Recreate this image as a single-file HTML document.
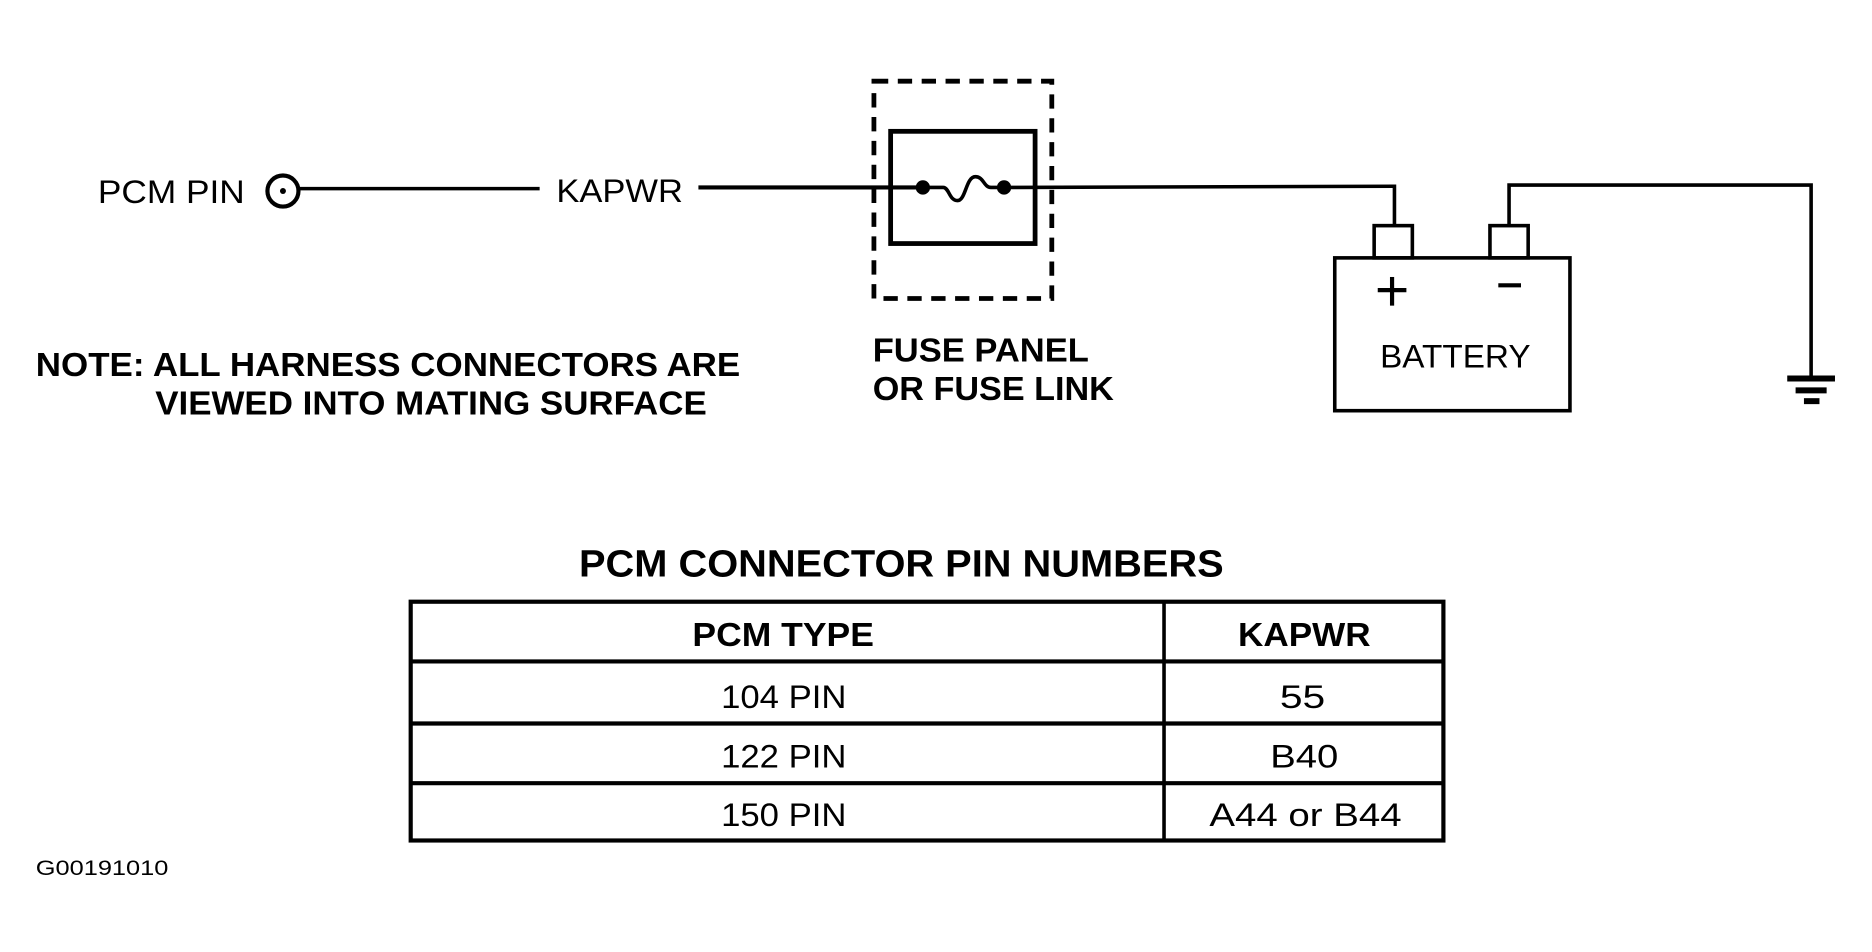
<!DOCTYPE html>
<html><head><meta charset="utf-8"><style>
html,body{margin:0;padding:0;background:#fff;}
svg{display:block;}
text{font-family:"Liberation Sans",sans-serif;fill:#000;}
</style></head><body>
<svg width="1872" height="952" viewBox="0 0 1568 797.4" preserveAspectRatio="none" xmlns="http://www.w3.org/2000/svg">
<rect width="1568" height="798" fill="#fff"/>
<g stroke="#000" fill="none">
<circle cx="237" cy="160" r="13" stroke-width="3.5"/>
<circle cx="237" cy="160" r="2.5" fill="#000" stroke="none"/>
<line x1="250" y1="158" x2="452" y2="158" stroke-width="3"/>
<line x1="585" y1="157" x2="773" y2="157" stroke-width="3.5"/>
<line x1="841" y1="157" x2="1168" y2="156" stroke-width="3"/>
<polyline points="1166,156 1168,156 1168,190" stroke-width="3"/>
<rect x="732" y="68" width="149" height="182" stroke-width="4" stroke-dasharray="12,8"/>
<rect x="746" y="110" width="121" height="94" stroke-width="4"/>
<path d="M773 157 H790 C795 157 795 168 802 168 C809 168 809 148 817 148 C824 148 824 157 830 157 H841" stroke-width="3"/>
</g>
<circle cx="773" cy="157" r="6" fill="#000"/>
<circle cx="841" cy="157" r="6" fill="#000"/>
<g stroke="#000" fill="none" stroke-width="3">
<rect x="1151" y="189" width="32" height="27"/>
<rect x="1248" y="189" width="32" height="27"/>
<rect x="1118" y="216" width="197" height="128"/>
<polyline points="1264,189 1264,155 1517,155 1517,318"/>
<line x1="1166" y1="232" x2="1166" y2="256" stroke-width="3.5"/>
<line x1="1154" y1="243" x2="1178" y2="243" stroke-width="3.5"/>
<line x1="1255" y1="239" x2="1274" y2="239" stroke-width="3.5"/>
<line x1="1497" y1="317" x2="1537" y2="317" stroke-width="5"/>
<line x1="1504" y1="327" x2="1530" y2="327" stroke-width="5"/>
<line x1="1511" y1="336" x2="1524" y2="336" stroke-width="5"/>
<rect x="344" y="504" width="865" height="200" stroke-width="3.5"/>
<line x1="975" y1="504" x2="975" y2="704" stroke-width="3"/>
<line x1="344" y1="554" x2="1209" y2="554" stroke-width="3.5"/>
<line x1="344" y1="606" x2="1209" y2="606" stroke-width="3.5"/>
<line x1="344" y1="656" x2="1209" y2="656" stroke-width="3.5"/>
</g>
<g font-size="27">
<text x="82" y="170" textLength="123" lengthAdjust="spacingAndGlyphs">PCM PIN</text>
<text x="466" y="169" textLength="106" lengthAdjust="spacingAndGlyphs">KAPWR</text>
<text x="1156" y="308" textLength="126" lengthAdjust="spacingAndGlyphs">BATTERY</text>
</g>
<g font-size="28" font-weight="bold">
<text x="30" y="315" textLength="590" lengthAdjust="spacingAndGlyphs">NOTE: ALL HARNESS CONNECTORS ARE</text>
<text x="130" y="347" textLength="462" lengthAdjust="spacingAndGlyphs">VIEWED INTO MATING SURFACE</text>
<text x="731" y="303" textLength="181" lengthAdjust="spacingAndGlyphs">FUSE PANEL</text>
<text x="731" y="335" textLength="202" lengthAdjust="spacingAndGlyphs">OR FUSE LINK</text>
<text x="485" y="483" font-size="32" textLength="540" lengthAdjust="spacingAndGlyphs">PCM CONNECTOR PIN NUMBERS</text>
<text x="580" y="541" textLength="152" lengthAdjust="spacingAndGlyphs">PCM TYPE</text>
<text x="1037" y="541" textLength="111" lengthAdjust="spacingAndGlyphs">KAPWR</text>
</g>
<g font-size="27">
<text x="604" y="593" textLength="105" lengthAdjust="spacingAndGlyphs">104 PIN</text>
<text x="1072" y="593" textLength="38" lengthAdjust="spacingAndGlyphs">55</text>
<text x="604" y="643" textLength="105" lengthAdjust="spacingAndGlyphs">122 PIN</text>
<text x="1064" y="643" textLength="57" lengthAdjust="spacingAndGlyphs">B40</text>
<text x="604" y="692" textLength="105" lengthAdjust="spacingAndGlyphs">150 PIN</text>
<text x="1013" y="692" textLength="161" lengthAdjust="spacingAndGlyphs">A44 or B44</text>
</g>
<text x="30" y="733" font-size="18" textLength="111" lengthAdjust="spacingAndGlyphs">G00191010</text>
</svg>
</body></html>
